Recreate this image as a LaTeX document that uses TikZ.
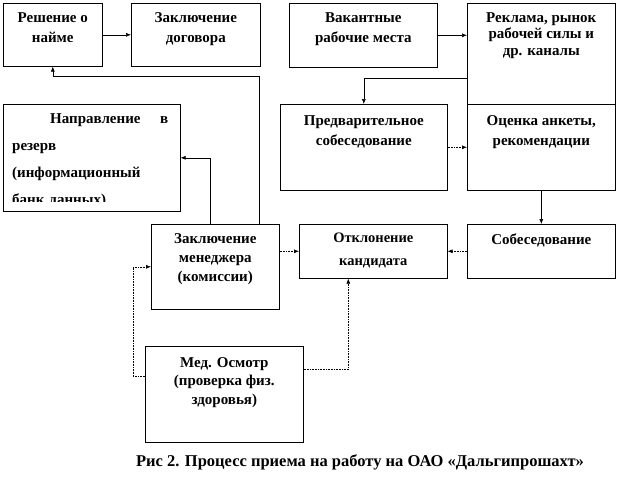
\documentclass[tikz,border=0pt]{standalone}
\usepackage{fontspec}
\setmainfont{Liberation Serif}
\usetikzlibrary{positioning, arrows.meta}

% text of a box, set at its top
\newcommand{\boxtext}[3]{\parbox[t][#2pt][t]{#1pt}{\centering\vspace*{9pt}#3\par}}

\begin{document}
\begin{tikzpicture}[x=1pt, y=-1pt,
    box/.style={draw, line width=0.6pt, inner sep=0pt, anchor=north west,
                font=\bfseries\fontsize{15}{20}\selectfont},
    link/.style={-{Latex[length=5pt, width=4pt]}, line width=0.6pt},
    dlink/.style={link, densely dotted}]
  \useasboundingbox (0,0) rectangle (618,491);

  % upper row
  \node[box, minimum width=99] (resh) at (3,3) {\boxtext{95}{63}{Решение о\\найме}};
  \node[box, minimum width=129] (dog) at (131,3) {\boxtext{125}{63}{Заключение\\договора}};
  \node[box, minimum width=148] (vak) at (289,3) {\boxtext{144}{64}{Вакантные\\рабочие места}};
  \node[box, minimum width=148, font=\bfseries\fontsize{15}{16.5}\selectfont] (rekl) at (467,3)
    {\boxtext{144}{101}{Реклама, рынок\\рабочей силы и\\др. каналы}};

  % middle
  \node[box, minimum width=167] (pred) at (280,104) {\boxtext{163}{86}{\vspace*{2pt}Предварительное\\собеседование}};
  \node[box, minimum width=148] (otsen) at (467,104) {\boxtext{144}{86}{\vspace*{2pt}Оценка анкеты,\\рекомендации}};
  \node[box, minimum width=177, minimum height=107] (napr) at (3,104) {};
  \begin{scope}
    \clip (3,104) rectangle (180,201);
    \node[anchor=north west, inner sep=0pt, text width=156pt, align=left,
          font=\bfseries\fontsize{15}{27}\selectfont] (naprtext) at (12,113)
      {\hspace*{38pt}Направление\hfill в\\резерв\\(информационный\\банк данных)};
  \end{scope}

  % lower
  \node[box, minimum width=128, font=\bfseries\fontsize{15}{19}\selectfont] (zakl) at (151,224)
    {\boxtext{124}{85}{Заключение\\менеджера\\(комиссии)}};
  \node[box, minimum width=148, font=\bfseries\fontsize{14.5}{23}\selectfont] (otkl) at (299,224)
    {\boxtext{144}{54}{Отклонение\\кандидата}};
  \node[box, minimum width=148] (sobes) at (467,224) {\boxtext{144}{54}{Собеседование}};
  \node[box, minimum width=158, font=\bfseries\fontsize{15}{18.5}\selectfont] (med) at (145,346)
    {\boxtext{154}{96}{\vspace*{2pt}Мед. Осмотр\\(проверка физ.\\здоровья)}};

  \node[font=\bfseries\fontsize{16.5}{18}\selectfont] (caption) at (360,462)
    {Рис 2. Процесс приема на работу на ОАО «Дальгипрошахт»};

  % connectors
  \draw[link] (resh) -- (dog);
  \draw[link] (vak.east) -- (vak.east -| rekl.west);
  \draw[link] ([yshift=-24pt]rekl.west) -| (pred.north);
  \draw[dlink] (pred) -- (otsen);
  \draw[link] (otsen) -- (sobes);
  \draw[dlink] (sobes) -- (otkl);
  \draw[dlink] (zakl.east |- otkl.west) -- (otkl.west);
  \draw[dlink] ([yshift=25pt]med.east) -| ([xshift=-25pt]otkl.south);
  \draw[dlink] ([yshift=18pt]med.west) -- ++(-12,0) |- (zakl.west);
  \draw[link] ([xshift=-5pt]zakl.north) |- (napr.east);
  \draw[link] ([xshift=44pt]zakl.north) |- ([yshift=-10pt]resh.south) -- (resh.south);
\end{tikzpicture}
\end{document}
